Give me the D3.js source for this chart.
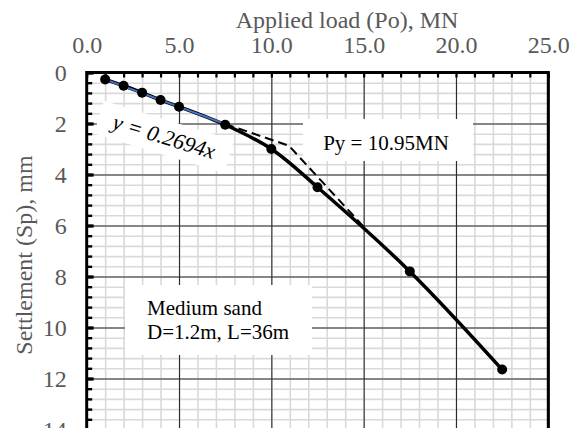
<!DOCTYPE html>
<html><head><meta charset="utf-8">
<script src="https://cdn.jsdelivr.net/npm/d3@7"></script>
<style>body{margin:0;background:#fff}svg{display:block}</style>
</head><body>
<svg id="c" width="578" height="428"></svg>
<script>
// ---- data ----
const loads = [1, 2, 3, 4, 5, 7.5, 10, 12.5, 17.5, 22.5];
const settlements = [0.27, 0.52, 0.79, 1.08, 1.34, 2.05, 3.0, 4.5, 7.8, 11.65];
const bilinearLoads = [7.5, 10.95, 15];
const bilinearSettle = [2.02, 2.87, 6.05];
const trendSlope = 0.2694;
const trendRange = [1, 7.5];
const xTickValues = [0, 5, 10, 15, 20, 25];
const xTickLabels = ["0.0", "5.0", "10.0", "15.0", "20.0", "25.0"];
const yTickValues = [0, 2, 4, 6, 8, 10, 12, 14];
const xTitle = "Applied load (Po), MN";
const yTitle = "Settlement (Sp), mm";
const trendLabel = "y = 0.2694x";
const pyLabel = "Py = 10.95MN";
const soilLines = ["Medium sand", "D=1.2m, L=36m"];

const svg = d3.select("#c");
const L = 86.7, R = 548.3, T = 72.5, B = 429.5;
const x = d3.scaleLinear().domain([0, 25]).range([L, R]);
const y = d3.scaleLinear().domain([0, 14]).range([T, B]);
const font = "'Liberation Serif','Times New Roman',serif";
const gray = "#595959";

// minor grid
const gMinor = svg.append("g");
gMinor.append("g").attr("transform", `translate(0,${T})`)
  .call(d3.axisTop(x).tickValues(d3.range(0, 26, 1)).tickSize(-(B - T)).tickFormat(""))
  .call(g => { g.select(".domain").remove(); g.selectAll("line").attr("stroke", "#d9d9d9").attr("stroke-width", 1.6); });
gMinor.append("g").attr("transform", `translate(${L},0)`)
  .call(d3.axisLeft(y).tickValues(d3.range(0, 14.01, 0.4)).tickSize(-(R - L)).tickFormat(""))
  .call(g => { g.select(".domain").remove(); g.selectAll("line").attr("stroke", "#d9d9d9").attr("stroke-width", 1.6); });

// major grid
const gMajor = svg.append("g");
gMajor.append("g").attr("transform", `translate(0,${T})`)
  .call(d3.axisTop(x).tickValues(xTickValues).tickSize(-(B - T)).tickFormat(""))
  .call(g => { g.select(".domain").remove(); g.selectAll("line").attr("stroke", "#2b2b2b").attr("stroke-width", 1.1); });
gMajor.append("g").attr("transform", `translate(${L},0)`)
  .call(d3.axisLeft(y).tickValues(yTickValues).tickSize(-(R - L)).tickFormat(""))
  .call(g => { g.select(".domain").remove(); g.selectAll("line").attr("stroke", "#2b2b2b").attr("stroke-width", 1.1); });

// annotation boxes (white, over grid)
const tg = svg.append("g").attr("transform", "translate(164,137) rotate(17)");
tg.append("rect").attr("x", -68).attr("y", -17).attr("width", 136).attr("height", 34).attr("fill", "#fff");
tg.append("text").attr("text-anchor", "middle").attr("dy", 7)
  .attr("font-family", font).attr("font-style", "italic").attr("font-size", 22).attr("fill", "#000")
  .text(trendLabel);

svg.append("rect").attr("x", 303).attr("y", 119).attr("width", 170).attr("height", 42).attr("fill", "#fff");
svg.append("text").attr("x", 386).attr("y", 149.5).attr("text-anchor", "middle")
  .attr("font-family", font).attr("font-size", 21).attr("fill", "#000").text(pyLabel);

svg.append("rect").attr("x", 125).attr("y", 285).attr("width", 187).attr("height", 70).attr("fill", "#fff");
svg.append("text").attr("font-family", font).attr("font-size", 21).attr("fill", "#000")
  .selectAll("tspan").data(soilLines).join("tspan")
  .attr("x", 147).attr("y", (d, i) => 315 + i * 23.5).text(d => d);

// data series
const pts = loads.map((v, i) => [v, settlements[i]]);
svg.append("path").datum(pts)
  .attr("d", d3.line().x(d => x(d[0])).y(d => y(d[1])).curve(d3.curveCatmullRom.alpha(0.5)))
  .attr("fill", "none").attr("stroke", "#000").attr("stroke-width", 3.5);

const bil = bilinearLoads.map((v, i) => [v, bilinearSettle[i]]);
svg.append("path").datum(bil)
  .attr("d", d3.line().x(d => x(d[0])).y(d => y(d[1])))
  .attr("fill", "none").attr("stroke", "#000").attr("stroke-width", 2).attr("stroke-dasharray", "9,5");

svg.append("path").datum(trendRange.map(v => [v, v * trendSlope]))
  .attr("d", d3.line().x(d => x(d[0])).y(d => y(d[1])))
  .attr("fill", "none").attr("stroke", "#4472C4").attr("stroke-width", 2);

svg.append("g").selectAll("circle").data(pts).join("circle")
  .attr("cx", d => x(d[0])).attr("cy", d => y(d[1])).attr("r", 5).attr("fill", "#000");

// axes: ticks inward
svg.append("g").attr("transform", `translate(0,${T})`)
  .call(d3.axisTop(x).tickValues(d3.range(0, 26, 1)).tickSize(-5).tickFormat(""))
  .call(g => { g.select(".domain").remove(); g.selectAll("line").attr("stroke", "#000").attr("stroke-width", 2.2); });
svg.append("g").attr("transform", `translate(${L},0)`)
  .call(d3.axisLeft(y).tickValues(d3.range(0, 14.01, 0.4)).tickSize(-5.5).tickFormat(""))
  .call(g => { g.select(".domain").remove(); g.selectAll("line").attr("stroke", "#000").attr("stroke-width", 2.4); });
svg.append("g").attr("transform", `translate(${L},0)`)
  .call(d3.axisLeft(y).tickValues(yTickValues).tickSize(-7).tickFormat(""))
  .call(g => { g.select(".domain").remove(); g.selectAll("line").attr("stroke", "#000").attr("stroke-width", 3.2); });

// frame
svg.append("rect").attr("x", L).attr("y", T).attr("width", R - L).attr("height", B - T)
  .attr("fill", "none").attr("stroke", "#000").attr("stroke-width", 3);

// tick labels
svg.append("g").attr("transform", `translate(0,${T})`)
  .call(d3.axisTop(x).tickValues(xTickValues).tickSize(0).tickPadding(19.5).tickFormat((d, i) => xTickLabels[i]))
  .call(g => { g.select(".domain").remove();
    g.selectAll("text").attr("font-family", font).attr("font-size", 24).attr("fill", gray); });
svg.append("g").attr("transform", `translate(${L},0)`)
  .call(d3.axisLeft(y).tickValues(yTickValues).tickSize(0).tickPadding(20).tickFormat(d3.format("d")))
  .call(g => { g.select(".domain").remove();
    g.selectAll("text").attr("font-family", font).attr("font-size", 24).attr("fill", gray); });

// titles
svg.append("text").attr("x", 347).attr("y", 28).attr("text-anchor", "middle")
  .attr("font-family", font).attr("font-size", 24).attr("fill", gray).text(xTitle);
svg.append("text").attr("transform", "translate(32,255) rotate(-90)").attr("text-anchor", "middle")
  .attr("font-family", font).attr("font-size", 24).attr("fill", gray).text(yTitle);
</script>
</body></html>
